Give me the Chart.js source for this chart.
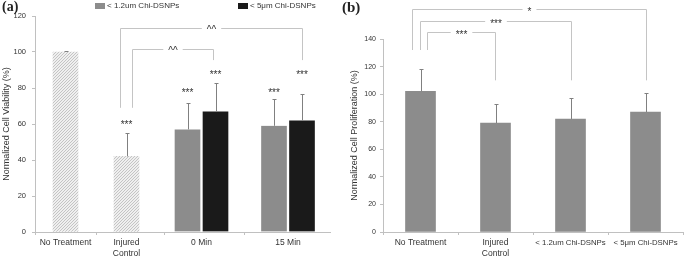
<!DOCTYPE html>
<html>
<head>
<meta charset="utf-8">
<script src="https://cdn.jsdelivr.net/npm/chart.js@4.4.1/dist/chart.umd.min.js"></script>
<style>
  body { margin: 0; background: #fff; font-family: 'Liberation Sans', Arial, sans-serif; }
  #wrap { position: relative; width: 685px; height: 259px; overflow: hidden; }
  canvas { position: absolute; top: 0; }
  #chartA { left: 0; }
  #chartB { left: 338px; }
  .tag { position: absolute; top: -1px; font-family: 'Liberation Serif', 'Times New Roman', serif; font-weight: bold; color: #222; }
  .box { position: absolute; top: 3px; height: 6px; }
  .key { position: absolute; top: 0; font-size: 8px; line-height: 12px; color: #333; white-space: nowrap; }
</style>
</head>
<body>
<div id="wrap">
  <canvas id="chartA" width="338" height="259"></canvas>
  <canvas id="chartB" width="347" height="259"></canvas>
  <div class="tag" style="left:2px; font-size:14px;">(a)</div>
  <div class="tag" style="left:342px; font-size:15px;">(b)</div>
  <div class="box" style="left:95px; width:10px; background:#8c8c8c;"></div>
  <div class="key" style="left:107px;">&lt; 1.2um Chi-DSNPs</div>
  <div class="box" style="left:238px; width:10px; background:#1a1a1a;"></div>
  <div class="key" style="left:250px;">&lt; 5μm Chi-DSNPs</div>
</div>
<script>
// panel (a) - cell viability
var labelsA = ['No Treatment', ['Injured', 'Control'], '0 Min', '15 Min'];
var controlA = [100, 42, null, null];
var controlErrA = [0.5, 13, null, null];
var smallA = [null, null, 57, 59];
var smallErrA = [null, null, 14.5, 15];
var largeA = [null, null, 67, 62];
var largeErrA = [null, null, 16, 14.5];
var starsControlA = [null, 61, null, null];
var starsSmallA = [null, null, 79, 78.5];
var starsLargeA = [null, null, 89, 89];
var bracketsA = [
  { from: [0, 1, -7], to: [2, 3, 0], level: 113.5, feet: [69, 95.5], label: '^^' },
  { from: [0, 1, 5], to: [2, 2, -3], level: 101.5, feet: [69, 95.5], label: '^^' }
];

// panel (b) - cell proliferation
var labelsB = ['No Treatment', ['Injured', 'Control'], '< 1.2um Chi-DSNPs', '< 5μm Chi-DSNPs'];
var prolifB = [102, 79, 82, 87];
var prolifErrB = [16.5, 13.5, 15.5, 13.5];
var bracketsB = [
  { from: [0, 0, -9], to: [0, 3, 0], level: 161.5, feet: [132, 110], label: '*' },
  { from: [0, 0, -1], to: [0, 2, 0], level: 153.2, feet: [132, 110], label: '***' },
  { from: [0, 0, 6], to: [0, 1, -1], level: 145.2, feet: [132, 110], label: '***' }
];

Chart.defaults.font.family = "'Liberation Sans', Arial, sans-serif";
Chart.defaults.color = '#333';

// category axis whose categories can have different widths
class WeightedCategoryScale extends Chart.CategoryScale {
  static id = 'weightedCategory';
  getPixelForValue(value) {
    if (typeof value !== 'number') value = this.parse(value);
    if (value === null || isNaN(value)) return NaN;
    var w = this.options.weights, total = 0, acc = 0;
    for (var k = 0; k < w.length; k++) total += w[k];
    var u = value - this._startValue;
    var i = Math.max(0, Math.min(Math.floor(u), w.length - 1));
    for (var j = 0; j < i; j++) acc += w[j];
    acc += w[i] * (u - i);
    return this.getPixelForDecimal(acc / total);
  }
}
Chart.register(WeightedCategoryScale);

function hatch() {
  var c = document.createElement('canvas');
  c.width = 3; c.height = 3;
  var g = c.getContext('2d');
  g.fillStyle = '#efefef';
  g.fillRect(0, 0, 3, 3);
  g.fillStyle = '#c4c4c4';
  for (var i = 0; i < 3; i++) g.fillRect(i, 2 - i, 1, 1);
  return g.createPattern(c, 'repeat');
}

// error bars, stars over bars and the significance brackets
function marks(errors, stars, brackets) {
  return {
    id: 'marks',
    afterDatasetsDraw: function (chart) {
      var ctx = chart.ctx, y = chart.scales.y;
      ctx.save();
      ctx.lineWidth = 1;
      ctx.strokeStyle = '#808080';
      errors.forEach(function (errs, di) {
        var meta = chart.getDatasetMeta(di);
        var vals = chart.data.datasets[di].data;
        meta.data.forEach(function (bar, i) {
          if (vals[i] == null || errs[i] == null) return;
          var x = Math.round(bar.x) + 0.5;
          var top = Math.round(y.getPixelForValue(vals[i] + errs[i])) + 0.5;
          ctx.beginPath();
          ctx.moveTo(x, y.getPixelForValue(vals[i]));
          ctx.lineTo(x, top);
          ctx.moveTo(x - 2, top);
          ctx.lineTo(x + 2, top);
          ctx.stroke();
        });
      });
      ctx.fillStyle = '#333';
      ctx.textAlign = 'center';
      ctx.textBaseline = 'middle';
      ctx.font = "10px 'Liberation Sans', Arial, sans-serif";
      stars.forEach(function (lvl, di) {
        var meta = chart.getDatasetMeta(di);
        meta.data.forEach(function (bar, i) {
          if (lvl[i] == null) return;
          ctx.fillText('***', bar.x, y.getPixelForValue(lvl[i]) + 3);
        });
      });
      ctx.strokeStyle = '#c4c4c4';
      brackets.forEach(function (b) {
        var x1 = Math.round(chart.getDatasetMeta(b.from[0]).data[b.from[1]].x + b.from[2]) + 0.5;
        var x2 = Math.round(chart.getDatasetMeta(b.to[0]).data[b.to[1]].x + b.to[2]) + 0.5;
        var yl = Math.round(y.getPixelForValue(b.level)) + 0.5;
        var xm = (x1 + x2) / 2;
        var half = ctx.measureText(b.label).width / 2 + 5;
        ctx.beginPath();
        ctx.moveTo(x1, y.getPixelForValue(b.feet[0]));
        ctx.lineTo(x1, yl);
        ctx.lineTo(xm - half, yl);
        ctx.moveTo(xm + half, yl);
        ctx.lineTo(x2, yl);
        ctx.lineTo(x2, y.getPixelForValue(b.feet[1]));
        ctx.stroke();
        ctx.fillText(b.label, xm, b.label === '^^' ? yl + 2 : yl + 3);
      });
      ctx.restore();
    }
  };
}

function xAxis(type, extra) {
  var axis = {
    type: type,
    offset: true,
    grid: { offset: true, drawOnChartArea: false, tickLength: 3, color: '#c0c0c0' },
    border: { color: '#c0c0c0' },
    ticks: {
      font: function (c) {
        var t = c.chart.data.labels[c.index];
        return { size: typeof t === 'string' && t.length > 14 ? 7.8 : 8.5 };
      },
      color: '#333', padding: 3, maxRotation: 0, autoSkip: false
    },
    afterFit: function (s) { s.height = 27; }
  };
  return Object.assign(axis, extra || {});
}

function yAxis(max, title, width, tickSize, tickPad, titlePad) {
  return {
    min: 0,
    max: max,
    grid: { drawOnChartArea: false, tickLength: 3, color: '#c0c0c0' },
    border: { color: '#c0c0c0' },
    ticks: { stepSize: 20, font: { size: tickSize }, color: '#333', padding: tickPad },
    title: { display: true, text: title, font: { size: 9 }, color: '#333', padding: { top: titlePad, bottom: 0 } },
    afterFit: function (s) { s.width = width; }
  };
}

var pair = { left: 1.5, right: 1.5, top: 0, bottom: 0 };

new Chart(document.getElementById('chartA'), {
  type: 'bar',
  data: {
    labels: labelsA,
    datasets: [
      { label: 'Control', data: controlA, backgroundColor: hatch(), barThickness: 25 },
      { label: '< 1.2um Chi-DSNPs', data: smallA, backgroundColor: '#8c8c8c', borderColor: '#fff', borderWidth: pair, barThickness: 28 },
      { label: '< 5μm Chi-DSNPs', data: largeA, backgroundColor: '#1a1a1a', borderColor: '#fff', borderWidth: pair, barThickness: 28 }
    ]
  },
  options: {
    responsive: false,
    animation: false,
    events: [],
    skipNull: true,
    layout: { padding: { top: 16, right: 8, left: 0, bottom: 0 } },
    plugins: { legend: { display: false }, tooltip: { enabled: false } },
    scales: {
      x: xAxis('weightedCategory', { weights: [61, 61, 89, 84] }),
      y: yAxis(120, 'Normalized Cell Viability (%)', 35, 7.5, 6, 1)
    }
  },
  plugins: [marks([controlErrA, smallErrA, largeErrA], [starsControlA, starsSmallA, starsLargeA], bracketsA)]
});

new Chart(document.getElementById('chartB'), {
  type: 'bar',
  data: {
    labels: labelsB,
    datasets: [
      { label: 'Cell Proliferation', data: prolifB, backgroundColor: '#8c8c8c', barThickness: 30 }
    ]
  },
  options: {
    responsive: false,
    animation: false,
    events: [],
    layout: { padding: { top: 39, right: 2, left: 0, bottom: 0 } },
    plugins: { legend: { display: false }, tooltip: { enabled: false } },
    scales: {
      x: xAxis('category'),
      y: yAxis(140, 'Normalized Cell Proliferation (%)', 45, 7, 4, 11.5)
    }
  },
  plugins: [marks([prolifErrB], [], bracketsB)]
});
</script>
</body>
</html>
